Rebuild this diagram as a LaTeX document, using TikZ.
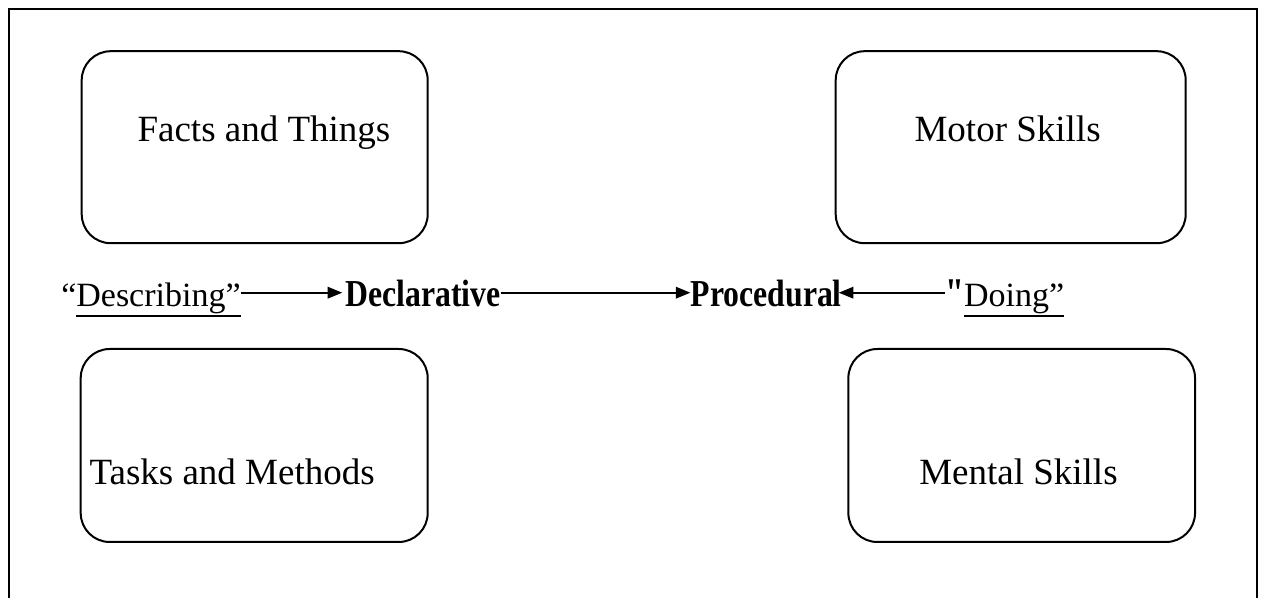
\documentclass[tikz,border=0pt]{standalone}
\usepackage{graphicx}
\usepackage{fontspec}
\setmainfont{Liberation Serif}
\newfontfamily\nomapfont{Liberation Serif}
\usetikzlibrary{arrows.meta}
\newcommand\myul[1]{\setbox0\hbox{#1}\rlap{\rule[-7.5pt]{\wd0}{1.4pt}}\box0}
\newcommand\boxfont{\fontsize{27.75pt}{33pt}\selectfont}
\newcommand\rowfont{\fontsize{25.5pt}{30pt}\selectfont}
\newcommand\rowbfont{\fontsize{23.8pt}{30pt}\selectfont\bfseries}
\newcommand\tallbf[1]{\scalebox{1}[1.2]{#1}}
\tikzset{
  kbox/.style={draw, line width=1.5pt, rounded corners=21.75pt, inner sep=0pt},
  klabel/.style={anchor=base west, inner sep=0pt, font=\boxfont},
  rowtext/.style={anchor=base west, inner sep=0pt, font=\rowfont},
  conn/.style={line width=1.7pt, -{Triangle[length=11pt,width=8.5pt]}},
}
\begin{document}
\begin{tikzpicture}[x=0.75pt,y=-0.75pt]
\useasboundingbox (0,0) rectangle (1261,598);
% outer frame (open at the bottom)
\draw[line width=1.5pt] (8.7,600) -- (8.7,9.5) -- (1256.7,9.5) -- (1256.7,600);
% boxes
\node[kbox, minimum width=259.5pt, minimum height=144pt] (facts) at (254.7,147.2) {};
\node[kbox, minimum width=262.5pt, minimum height=144pt] (motor) at (1010.7,147.2) {};
\node[kbox, minimum width=260.25pt, minimum height=144.75pt] (tasks) at (254.2,445.5) {};
\node[kbox, minimum width=260pt, minimum height=144.75pt] (mental) at (1021.7,445.5) {};
% box labels
\node[klabel] (factsl) at (137.3,141.7) {Facts and Things};
\node[klabel] (motorl) at (914.3,141.7) {Motor Skills};
\node[klabel] (tasksl) at (89.3,485) {Tasks and Methods};
\node[klabel] (mentall) at (919,485) {Mental Skills};
% middle row
\node[rowtext] (desc) at (61,306.7) {“\myul{Describing”}};
\node[rowtext, font=\rowbfont] (decl) at (345,306.7) {\tallbf{Declarative}};
\node[rowtext, font=\rowbfont] (proc) at (690.5,306.7) {\tallbf{Procedural}};
\node[rowtext] (doing) at (945,306.7) {\tallbf{\nomapfont\bfseries"}\myul{Doing”}};
% connectors
\draw[conn] ([yshift=10.5pt]desc.base east) -- ([yshift=10.5pt,xshift=-2pt]decl.base west);
\draw[conn] ([yshift=10.5pt]decl.base east) -- ([yshift=10.5pt]proc.base west);
\draw[conn, shorten >=-2.5pt] ([yshift=10.5pt]doing.base west) -- ([yshift=10.5pt]proc.base east);
\end{tikzpicture}
\end{document}
